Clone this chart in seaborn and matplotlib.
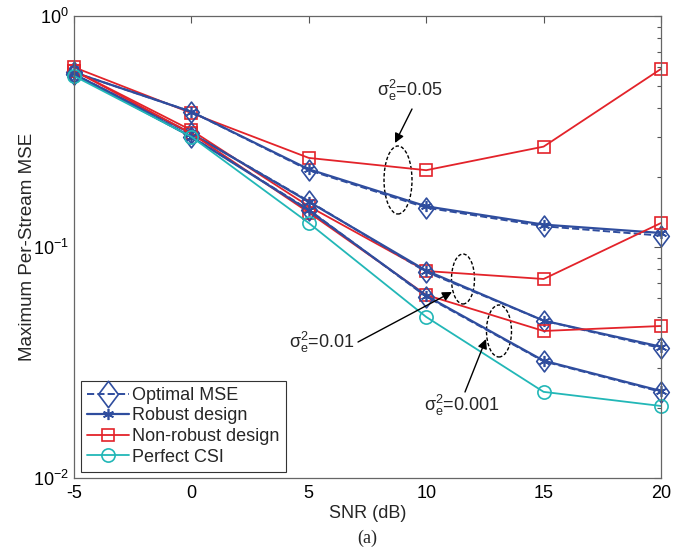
import numpy as np
import pandas as pd
import matplotlib
matplotlib.use("Agg")
import matplotlib.pyplot as plt
import seaborn as sns
from matplotlib.lines import Line2D
from matplotlib.patches import Ellipse
from matplotlib.path import Path

# ---------------- data ----------------
snr = [-5, 0, 5, 10, 15, 20]

opt_005 = [0.57, 0.385, 0.215, 0.148, 0.123, 0.112]
rob_005 = [0.57, 0.385, 0.217, 0.150, 0.125, 0.115]
non_005 = [0.60, 0.380, 0.243, 0.215, 0.272, 0.59]

opt_001 = [0.56, 0.310, 0.158, 0.078, 0.048, 0.0365]
rob_001 = [0.56, 0.310, 0.157, 0.079, 0.048, 0.037]
non_001 = [0.58, 0.320, 0.150, 0.0787, 0.0727, 0.127]

opt_0001 = [0.56, 0.300, 0.145, 0.061, 0.032, 0.0236]
rob_0001 = [0.56, 0.300, 0.144, 0.0615, 0.0322, 0.0238]
non_0001 = [0.58, 0.310, 0.141, 0.062, 0.0433, 0.0455]

perfect = [0.55, 0.300, 0.127, 0.0498, 0.0236, 0.0205]

legend_labels = ["Optimal MSE", "Robust design", "Non-robust design", "Perfect CSI"]
annot_labels = [r"$\mathregular{\sigma_e^2}$=0.05", r"$\mathregular{\sigma_e^2}$=0.01",
                r"$\mathregular{\sigma_e^2}$=0.001"]

# ---------------- style ----------------
sns.set_theme(style="white")
plt.rcParams["font.family"] = ["Liberation Sans", "DejaVu Sans"]
plt.rcParams["mathtext.fontset"] = "custom"
plt.rcParams["mathtext.rm"] = "Liberation Sans"
plt.rcParams["mathtext.it"] = "Liberation Sans:italic"
plt.rcParams["mathtext.sf"] = "Liberation Sans"

BLUE = "#2f4d9e"
RED = "#e3232a"
CYAN = "#22b7b7"
FS = 13

diamond = Path([(0, 1), (0.75, 0), (0, -1), (-0.75, 0), (0, 1)],
               [Path.MOVETO, Path.LINETO, Path.LINETO, Path.LINETO, Path.CLOSEPOLY])
star = (6, 2, 0)

W, H = 690, 552
fig = plt.figure(figsize=(W / 100, H / 100), dpi=100)
L, R, T, B = 74, 661, 16, 478
ax = fig.add_axes([L / W, 1 - B / H, (R - L) / W, (B - T) / H])

def draw(y, color, marker, ms, ls="-", lw=1.4, mew=1.2):
    df = pd.DataFrame({"SNR": snr, "MSE": y})
    sns.lineplot(data=df, x="SNR", y="MSE", ax=ax, color=color, linestyle=ls,
                 linewidth=lw, marker=marker, markersize=ms,
                 markerfacecolor="none", markeredgecolor=color,
                 markeredgewidth=mew, legend=False, errorbar=None,
                 clip_on=False)

for opt, rob, non in [(opt_005, rob_005, non_005),
                      (opt_001, rob_001, non_001),
                      (opt_0001, rob_0001, non_0001)]:
    draw(non, RED, "s", 8.5, lw=1.3)
    draw(opt, BLUE, diamond, 15, ls="--", lw=1.4)
    draw(rob, BLUE, star, 8, lw=1.6)
draw(perfect, CYAN, "o", 9.5, lw=1.3)

ax.set_yscale("log")
ax.set_xlim(-5, 20)
ax.set_ylim(1e-2, 1)
ax.set_xticks(snr)
ax.set_xticklabels([str(s) for s in snr])
ax.tick_params(axis="both", which="both", direction="in", top=True, right=True,
               labelsize=FS, colors="#555555", labelcolor="black")
ax.tick_params(axis="both", which="major", length=5, width=0.8)
ax.tick_params(axis="y", which="minor", length=3, width=0.8)
ax.tick_params(axis="x", which="major", pad=5)
for sp in ax.spines.values():
    sp.set_color("#666666")
    sp.set_linewidth(0.9)
ax.set_xlabel("SNR (dB)", fontsize=FS, labelpad=2)
ax.set_ylabel("Maximum Per-Stream MSE", fontsize=13.5, labelpad=-2)
fig.text(367 / W, 1 - 538 / H, "(a)", ha="center", va="center", fontsize=13,
         family="Liberation Serif")

# ---------------- legend ----------------
handles = [
    Line2D([], [], color=BLUE, ls="--", lw=1.4, marker=diamond, ms=19,
           mfc="none", mec=BLUE, mew=1.2),
    Line2D([], [], color=BLUE, ls="-", lw=1.6, marker=star, ms=8,
           mfc="none", mec=BLUE, mew=1.2),
    Line2D([], [], color=RED, ls="-", lw=1.3, marker="s", ms=8.5,
           mfc="none", mec=RED, mew=1.2),
    Line2D([], [], color=CYAN, ls="-", lw=1.3, marker="o", ms=9.5,
           mfc="none", mec=CYAN, mew=1.2),
]
leg = ax.legend(handles, legend_labels, loc="lower left",
                bbox_to_anchor=((81 - L) / (R - L), (B - 472) / (B - T)),
                borderaxespad=0, fontsize=FS, frameon=True, fancybox=False,
                edgecolor="#333333", framealpha=1, handlelength=2.3,
                handletextpad=0.2, labelspacing=0.2, borderpad=0.35)
leg.get_frame().set_linewidth(0.8)

# ---------------- annotations ----------------
def px2ax(x, y):
    return ((x - L) / (R - L), (B - y) / (B - T))

for (cx, cy, w, h) in [(398, 180, 28, 68), (463, 279, 23, 50), (499, 331, 25, 52)]:
    ax.add_patch(Ellipse(px2ax(cx, cy), w / (R - L), h / (B - T),
                         transform=ax.transAxes, fill=False, ec="black",
                         ls=(0, (2.5, 1.5)), lw=1.0))

annots = [
    (annot_labels[0], (410, 90), (412, 109), (395, 143)),
    (annot_labels[1], (322, 342), (358, 342), (452, 292)),
    (annot_labels[2], (462, 405), (465, 392), (486, 339)),
]
for txt, tpos, start, tip in annots:
    ax.text(*px2ax(*tpos), txt, transform=ax.transAxes, ha="center",
            va="center", fontsize=13)
    ax.annotate("", xy=px2ax(*tip), xycoords="axes fraction",
                xytext=px2ax(*start), textcoords="axes fraction",
                arrowprops=dict(arrowstyle="-|>", color="black", lw=1.0,
                                mutation_scale=14, shrinkA=0, shrinkB=0))

fig.savefig("out.png", dpi=100)
